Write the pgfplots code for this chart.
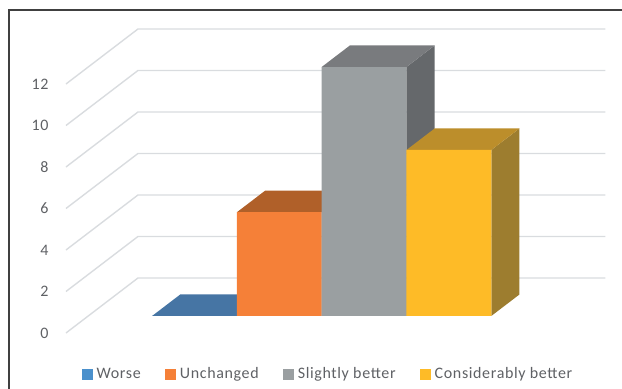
\documentclass[border=0pt]{standalone}
\usepackage{fontspec}
\setmainfont{Carlito}
\newfontfamily\chartfont[LetterSpace=4]{Carlito}
\usepackage{pgfplots}
\pgfplotsset{compat=1.18}

\definecolor{gridc}{HTML}{D9DCDF}
\definecolor{txt}{HTML}{5F6165}
\definecolor{blueF}{HTML}{4A90CC}
\definecolor{blueT}{HTML}{4675A4}
\definecolor{orangeF}{HTML}{F58038}
\definecolor{orangeT}{HTML}{B06029}
\definecolor{orangeS}{HTML}{A0582A}
\definecolor{grayF}{HTML}{9A9FA1}
\definecolor{grayT}{HTML}{797B7E}
\definecolor{grayS}{HTML}{65686B}
\definecolor{yellowF}{HTML}{FEBB27}
\definecolor{yellowT}{HTML}{BC8E2B}
\definecolor{yellowS}{HTML}{9D7D2F}

% Depth range occupied by the columns inside the floor
\newcommand{\dA}{0.309}
\newcommand{\dB}{0.70}

% One column: left, right, value, front/top/side colours
\newcommand{\drawbar}[6]{%
  \addplot3[forget plot,draw=none,fill=#6] coordinates
    {(#2,\dA,0) (#2,\dB,0) (#2,\dB,#3) (#2,\dA,#3) (#2,\dA,0)};
  \addplot3[forget plot,draw=none,fill=#5] coordinates
    {(#1,\dA,#3) (#2,\dA,#3) (#2,\dB,#3) (#1,\dB,#3) (#1,\dA,#3)};
  \addplot3[forget plot,draw=none,fill=#4] coordinates
    {(#1,\dA,0) (#2,\dA,0) (#2,\dA,#3) (#1,\dA,#3) (#1,\dA,0)};
}

% Gridline at one height: along the side wall, then along the back wall
\newcommand{\gridat}[1]{%
  \addplot3[forget plot,draw=gridc,line width=1.4pt,line join=miter] coordinates
    {(-0.753,0,#1) (-0.753,1,#1) (4.76,1,#1)};
}

\newcommand{\swatch}[1]{%
  \addlegendimage{legend image code/.code={%
    \fill[#1] (0pt,-4.8pt) rectangle (9.6pt,4.8pt);
    \path[draw=none,fill=none] (0pt,0pt) -- (12.6pt,0pt);}}%
}

\begin{document}
\begin{tikzpicture}
\begin{axis}[
  x={(84.8pt,0pt)}, y={(72pt,55pt)}, z={(0pt,20.75pt)},
  xmin=-0.753, xmax=4.76, ymin=0, ymax=1, zmin=0, zmax=12,
  clip=false,
  axis line style={draw=none},
  xtick=\empty, ytick=\empty,
  ztick={0,2,...,12},
  major tick length=0pt,
  tick style={draw=none},
  /pgf/number format/assume math mode=true,
  every z tick label/.style={anchor=east,xshift=-14pt,text=txt,font=\chartfont\fontsize{16}{17}\selectfont},
  mark=none,
  legend columns=4,
  legend cell align=left,
  legend style={
    at={(axis cs:-0.565,0,-1.976)}, anchor=west,
    draw=none, fill=none, inner sep=0pt, outer sep=0pt,
    font=\chartfont\fontsize{16}{17}\selectfont, text=txt,
    /tikz/every even column/.append style={column sep=22.3pt},
  },
]
  \gridat{0}\gridat{2}\gridat{4}\gridat{6}\gridat{8}\gridat{10}\gridat{12}

  \drawbar{0}{1}{0}{blueT}{blueT}{blueT}
  \drawbar{1}{2}{5}{orangeF}{orangeT}{orangeS}
  \drawbar{2}{3}{12}{grayF}{grayT}{grayS}
  \drawbar{3}{4}{8}{yellowF}{yellowT}{yellowS}

  \swatch{blueF}\addlegendentry{Worse}
  \swatch{orangeF}\addlegendentry{Unchanged}
  \swatch{grayF}\addlegendentry{Slightly better}
  \swatch{yellowF}\addlegendentry{Considerably better}

  % Page corners and outer frame of the chart area
  \coordinate (bl) at (axis cs:-1.531,0,-2.699);
  \coordinate (tr) at (axis cs:5.804,0,16.048);
  \coordinate (fb) at (axis cs:-1.425,0,-2.699);
  \coordinate (ft) at (axis cs:-1.425,0,15.566);
  \coordinate (fr) at (axis cs:5.804,0,15.566);
\end{axis}
\draw[color=black!75,line width=1.2pt] (fb) -- (ft) -- (fr);
\pgfresetboundingbox
\useasboundingbox (bl) rectangle (tr);
\end{tikzpicture}
\end{document}
